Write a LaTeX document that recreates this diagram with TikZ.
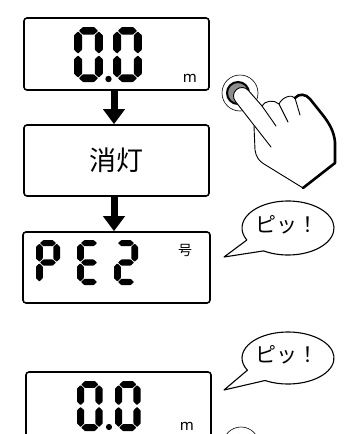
\documentclass[tikz,border=0pt]{standalone}
\usepackage{fontspec}
\setmainfont{Noto Sans}
\newfontfamily\jpfont{Noto Sans CJK JP}
\usetikzlibrary{arrows.meta}

% seven-segment pieces, local digit box 27 x 55, segment thickness 7.6
\newcommand\hseg[1]{\fill[seg] (4.5,#1) -- ++(3.8,-3.8) -- ++(10.4,0) -- ++(3.8,3.8) -- ++(-3.8,3.8) -- ++(-10.4,0) -- cycle;}
\newcommand\vseg[2]{\fill[seg] (#1,#2) -- ++(3.8,3.8) -- ++(0,14.4) -- ++(-3.8,3.8) -- ++(-3.8,-3.8) -- ++(0,-14.4) -- cycle;}
\newcommand\segA{\hseg{3.8}}
\newcommand\segG{\hseg{27.5}}
\newcommand\segD{\hseg{51.2}}
\newcommand\segF{\vseg{3.8}{4.5}}
\newcommand\segE{\vseg{3.8}{28.5}}
\newcommand\segB{\vseg{23.2}{4.5}}
\newcommand\segC{\vseg{23.2}{28.5}}
\newcommand\digitZero{\segA\segB\segC\segD\segE\segF}
\newcommand\digitP{\segA\segB\segE\segF\segG}
\newcommand\digitE{\segA\segD\segE\segF\segG}
\newcommand\digitTwo{\segA\segB\segG\segE\segD}

\begin{document}
\begin{tikzpicture}[x=1pt,y=-1pt,
  panel/.style={draw=black, line width=1.6pt, rounded corners=3pt, fill=white, inner sep=0pt},
  seg/.style={fill=black, rounded corners=0.6pt},
  flow/.style={line width=7pt, -{Triangle[width=21pt,length=15pt]}},
  bubble/.style={draw=black, line width=1.1pt, fill=white, line join=round},
  saytext/.style={font=\jpfont\fontsize{21}{21}\selectfont, inner sep=0pt},
  unit/.style={font=\fontsize{15}{15}\selectfont, inner sep=0pt},
  handline/.style={line width=0.9pt, line join=round, line cap=round},
  handedge/.style={line width=2.6pt, line join=round, line cap=round},
]
\path[use as bounding box] (0,0) rectangle (362,434);
\clip (0,0) rectangle (362,434);

% display panels
\node[panel, minimum width=185pt, minimum height=72pt] (disp1) at (116.5,54) {};
\node[panel, minimum width=185pt, minimum height=71pt,
      font=\jpfont\fontsize{27}{27}\selectfont] (dark) at (116.5,160.5) {消灯};
\node[panel, minimum width=187pt, minimum height=71pt] (disp2) at (116.5,267.5) {};
\node[panel, minimum width=185pt, minimum height=98pt] (disp3) at (118.5,421) {};

% flow arrows
\draw[flow] ([xshift=-2.5pt]disp1.south) -- ([xshift=-2.5pt]dark.north);
\draw[flow] ([xshift=-2.5pt]dark.south) -- ([xshift=-2.5pt]disp2.north);

% reading 0.0 m
\begin{scope}[shift={(74,27)}, xscale=1.07]\digitZero\end{scope}
\begin{scope}[shift={(113,27)}, xscale=1.07]\digitZero\end{scope}
\fill (108.5,79) circle[radius=3.2];
\node[unit] (m1) at (190,78) {m};

% reading PE2 with number sign
\begin{scope}[shift={(36,240)}, xscale=0.89, yscale=0.82]\digitP\end{scope}
\begin{scope}[shift={(77,240)}, xscale=0.89, yscale=0.82]\digitE\end{scope}
\begin{scope}[shift={(114,240)}, xscale=0.89, yscale=0.82]\digitTwo\end{scope}
\node[font=\jpfont\fontsize{14}{14}\selectfont, inner sep=0pt] (num) at (185,250) {号};

% reading 0.0 m again
\begin{scope}[shift={(77,381)}, xscale=0.95, yscale=0.91]\digitZero\end{scope}
\begin{scope}[shift={(115,381)}, xscale=0.95, yscale=0.91]\digitZero\end{scope}
\fill (109,427) circle[radius=3.1];
\node[unit] (m2) at (187,426) {m};

% speech bubbles
\draw[bubble] (288,228) ++(122:46 and 27)
  arc[start angle=122, end angle=-206.5, x radius=46, y radius=27] -- (224,257) -- cycle;
\node[saytext] (beep1) at (287,225) {ピッ！};
\draw[bubble] (288,358) ++(120:46 and 26)
  arc[start angle=120, end angle=-208, x radius=46, y radius=26] -- (224,390) -- cycle;
\node[saytext] (beep2) at (287,355) {ピッ！};

% button with pressing hand
\draw[line width=0.6pt] (240,93) circle[radius=18];
\draw[fill=black!45, line width=2pt] (238,93) circle[radius=11];
\path[fill=white] (235.6,101.6) arc[start angle=138.7, end angle=318.7, radius=8.5]
  -- (262,106) .. controls (264,101) and (274,99) .. (279,104)
  .. controls (282,97) and (292,94) .. (295,98)
  .. controls (299,93) and (306,94) .. (310,99) -- (322,114)
  .. controls (330,124) and (334,132) .. (335,142) -- (335,163) -- (303,188)
  -- (264,164) .. controls (259,161) and (256,157) .. (255,150) -- (254,126) -- cycle;
\draw[handline] (235.6,101.6) arc[start angle=138.7, end angle=318.7, radius=8.5]
  -- (262,106) .. controls (264,101) and (274,99) .. (279,104)
  .. controls (282,97) and (292,94) .. (295,98);
\draw[handline] (262,106) -- (276,126);
\draw[handline] (279,104) -- (288,122);
\draw[handline] (295,98) -- (300,115);
\draw[handline] (235.6,101.6) -- (271,147);
\draw[handline] (254,126) -- (255,150) .. controls (256,157) and (259,161) .. (264,164) -- (303,188);
\draw[handedge] (295,98) .. controls (299,93) and (306,94) .. (310,99) -- (322,114)
  .. controls (330,124) and (334,132) .. (335,142) -- (335,163) -- (303,188);

% second button, partly in view
\draw[line width=0.6pt] (241,445) circle[radius=18];
\draw[fill=black!45, line width=2pt] (239,446) circle[radius=11];
\end{tikzpicture}
\end{document}
